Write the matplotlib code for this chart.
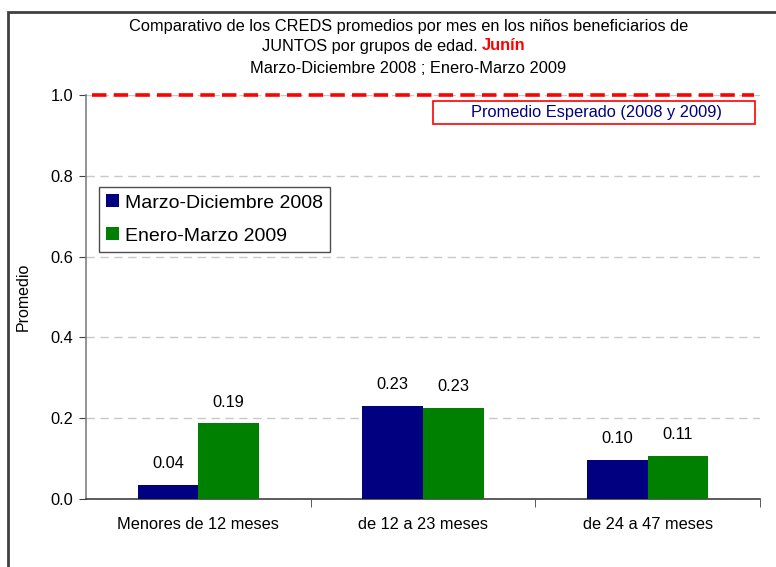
import matplotlib.pyplot as plt
import numpy as np
from matplotlib.patches import Rectangle

plt.rcParams['font.family'] = ['Liberation Sans', 'DejaVu Sans']

# Datos
grupos = ['Menores de 12 meses', 'de 12 a 23 meses', 'de 24 a 47 meses']
serie_2008 = [0.035, 0.23, 0.097]
serie_2009 = [0.187, 0.225, 0.106]
etiquetas_2008 = ['0.04', '0.23', '0.10']
etiquetas_2009 = ['0.19', '0.23', '0.11']
promedio_esperado = 1.0

fig = plt.figure(figsize=(7.76, 5.67), dpi=100)
ax = fig.add_axes([0.1108, 0.1199, 0.8686, 0.7126])

# Marco de la figura
fig.patches.append(Rectangle((8 / 776, -0.05), 1.1, (567 - 12) / 567 + 0.05,
                             transform=fig.transFigure, fill=False,
                             edgecolor='#404040', linewidth=2))

x = np.arange(len(grupos))
ancho = 0.27
b1 = ax.bar(x - ancho / 2, serie_2008, ancho, color='#000080', label='Marzo-Diciembre 2008', zorder=3)
b2 = ax.bar(x + ancho / 2, serie_2009, ancho, color='#008000', label='Enero-Marzo 2009', zorder=3)

for rect, t in zip(b1, etiquetas_2008):
    ax.annotate(t, (rect.get_x() + rect.get_width() / 2, rect.get_height()),
                xytext=(0, 10), textcoords='offset points', ha='center', va='bottom', fontsize=11.8)
for rect, t in zip(b2, etiquetas_2009):
    ax.annotate(t, (rect.get_x() + rect.get_width() / 2, rect.get_height()),
                xytext=(0, 10), textcoords='offset points', ha='center', va='bottom', fontsize=11.8)

# Línea del promedio esperado
ax.plot([-0.474, 2.475], [promedio_esperado, promedio_esperado], color='#ff0000',
        linestyle=(0, (4, 2)), linewidth=2.6, zorder=4, clip_on=False)
ax.add_patch(Rectangle((0.515, 0.928), 0.4776, 0.057, transform=ax.transAxes,
                       facecolor='white', edgecolor='#ff0000', linewidth=1.2, zorder=5))
ax.text(0.758, 0.957, 'Promedio Esperado (2008 y 2009)', transform=ax.transAxes,
        ha='center', va='center', fontsize=11.8, color='#000080', zorder=6)

ax.set_xlim(-0.5, 2.5)
ax.set_ylim(0, 1.0)
ax.set_yticks([0.0, 0.2, 0.4, 0.6, 0.8, 1.0])
ax.set_yticklabels(['0.0', '0.2', '0.4', '0.6', '0.8', '1.0'], fontsize=11.8)
ax.set_xticks(x)
ax.set_xticklabels(grupos, fontsize=11.8)
ax.tick_params(axis='x', length=0, pad=13)
ax.set_xticks([0.5, 1.5, 2.5], minor=True)
ax.tick_params(axis='x', which='minor', length=6, color='#404040')
ax.tick_params(axis='y', length=5, color='#404040', pad=4)

ax.yaxis.grid(True, color='#c8c8c8', linestyle=(0, (6, 4)), linewidth=1, zorder=0)
for s in ['top', 'right']:
    ax.spines[s].set_visible(False)
ax.spines['left'].set_color('#808080')
ax.spines['bottom'].set_color('#404040')
ax.spines['left'].set_linewidth(1.2)
ax.spines['bottom'].set_linewidth(1.2)

ax.set_ylabel('Promedio', fontsize=11.5, labelpad=14)

leg = ax.legend(loc='upper left', bbox_to_anchor=(0.0193, 0.772), fontsize=14,
                frameon=True, fancybox=False, edgecolor='#202020', handlelength=0.65,
                handleheight=0.65, handletextpad=0.3, borderpad=0.38, labelspacing=0.8,
                borderaxespad=0)
leg.get_frame().set_linewidth(1)

# Título
cx = 0.526
fig.text(cx, 1 - 26 / 567, 'Comparativo de los CREDS promedios por mes en los niños beneficiarios de',
         ha='center', va='center', fontsize=11.8)
negro = fig.text(cx - 0.047, 1 - 46 / 567, 'JUNTOS por grupos de edad. ', ha='center', va='center',
                 fontsize=11.8)
fig.text(cx, 1 - 69 / 567, 'Marzo-Diciembre 2008 ; Enero-Marzo 2009', ha='center', va='center', fontsize=11.8)
ax.annotate('Junín', xy=(1, 0.5), xycoords=negro, ha='left', va='center', fontsize=11.8,
            color='#ff0000', fontweight='bold', annotation_clip=False)

fig.savefig('out.png', dpi=100)
